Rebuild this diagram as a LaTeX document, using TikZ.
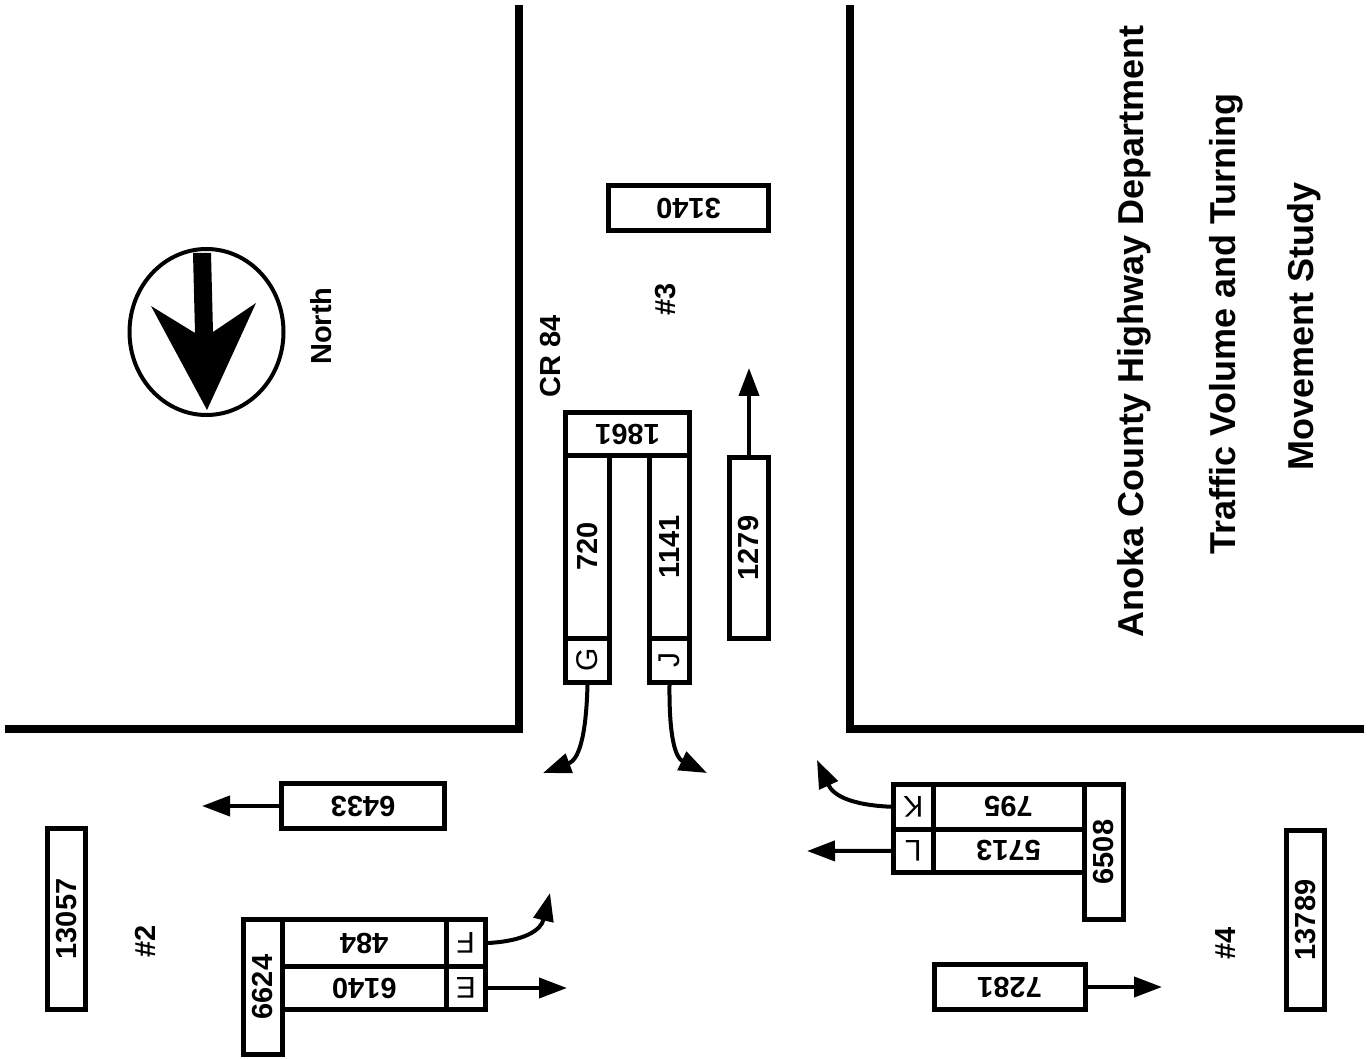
\documentclass[tikz,border=0pt]{standalone}
\usepackage{fontspec}
\setmainfont{Liberation Sans}
\usepackage{graphicx}
\usetikzlibrary{arrows.meta}
\newcommand{\cntfont}{\fontsize{29}{34}\selectfont\bfseries}
\newcommand{\tagfont}{\fontsize{30}{36}\selectfont}
\newcommand{\ttlfont}{\fontsize{36}{42}\selectfont\bfseries}
\begin{document}
\begin{tikzpicture}[x=1pt,y=-1pt,
    road/.style={line width=8pt},
    cell/.style={draw,line width=5pt,inner sep=0pt,font=\cntfont},
    tag/.style={cell,font=\tagfont},
    flow/.style={line width=4pt,-{Triangle[length=28pt,width=20pt]}},
    lbl/.style={font=\cntfont,inner sep=0pt,rotate=90}]
  \useasboundingbox (0,0) rectangle (1369,1059);
  % roads
  \draw[road] (519,5) -- (519,729) -- (5,729);
  \draw[road] (850,5) -- (850,729) -- (1364,729);
  % north arrow
  \draw[line width=4pt] (206.5,332) ellipse [x radius=77pt,y radius=83pt];
  \fill (193,253) -- (211,253) -- (213,332) -- (256,303) -- (207,410) -- (151,306) -- (195,333) -- cycle;
  \node[lbl] (north) at (321,326) {North};

  \node[cell,minimum width=160pt,minimum height=45pt] (n3140) at (688.5,208) {\rotatebox{180}{3140}};
  \node[lbl] (site3) at (666,299) {\#3};
  \node[lbl] (cr84) at (551,356) {CR 84};
  \node[cell,minimum width=124pt,minimum height=43pt] (n1861) at (627.5,434) {\rotatebox{180}{1861}};
  \node[cell,minimum width=44pt,minimum height=182.5pt] (n720) at (587.5,546.75) {\rotatebox{90}{720}};
  \node[tag,minimum width=44pt,minimum height=44.5pt] (g) at (587.5,660.25) {\rotatebox{90}{G}};
  \node[cell,minimum width=40pt,minimum height=182.5pt] (n1141) at (669.5,546.75) {\rotatebox{90}{1141}};
  \node[tag,minimum width=40pt,minimum height=44.5pt] (j) at (669.5,660.25) {\rotatebox{90}{J}};
  \node[cell,minimum width=39pt,minimum height=181pt] (n1279) at (749,548) {\rotatebox{90}{1279}};
  \coordinate (t1279) at (749,368);
  \draw[flow] (n1279) -- (t1279);
  \coordinate (tG) at (543,773);
  \draw[flow] (g.south) .. controls (586,740) and (578,760) .. (tG);
  \coordinate (tJ) at (707,773);
  \draw[flow] (j.south) .. controls (669,740) and (676,758) .. (tJ);

  % approach #2
  \node[cell,minimum width=163pt,minimum height=45pt] (n6433) at (363,806) {\rotatebox{180}{6433}};
  \coordinate (t6433) at (202,806);
  \draw[flow] (n6433) -- (t6433);
  \node[cell,minimum width=38pt,minimum height=181pt] (n13057) at (66.5,919) {\rotatebox{90}{13057}};
  \node[lbl] (site2) at (145.5,941.5) {\#2};
  \node[cell,minimum width=39.5pt,minimum height=135pt] (n6624) at (262.75,987) {\rotatebox{90}{6624}};
  \node[cell,minimum width=163.5pt,minimum height=47pt] (n484) at (364.25,943) {\rotatebox{180}{484}};
  \node[tag,minimum width=39.5pt,minimum height=47pt] (f) at (465.75,943) {\rotatebox{180}{F}};
  \node[cell,minimum width=163.5pt,minimum height=43pt] (n6140) at (364.25,988) {\rotatebox{180}{6140}};
  \node[tag,minimum width=39.5pt,minimum height=43pt] (e) at (465.75,988) {\rotatebox{180}{E}};
  \coordinate (tF) at (550,893);
  \draw[flow] (f.east) .. controls (525,941) and (541,930) .. (tF);
  \coordinate (tE) at (567,988);
  \draw[flow] (e) -- (tE);

  % approach #4
  \node[tag,minimum width=39.5pt,minimum height=44.5pt] (k) at (913.25,806.75) {\rotatebox{180}{K}};
  \node[cell,minimum width=151pt,minimum height=44.5pt] (n795) at (1008.5,806.75) {\rotatebox{180}{795}};
  \node[tag,minimum width=39.5pt,minimum height=43.5pt] (l) at (913.25,850.75) {\rotatebox{180}{L}};
  \node[cell,minimum width=151pt,minimum height=43.5pt] (n5713) at (1008.5,850.75) {\rotatebox{180}{5713}};
  \node[cell,minimum width=39.5pt,minimum height=135pt] (n6508) at (1103.75,852) {\rotatebox{90}{6508}};
  \coordinate (tK) at (817,760);
  \draw[flow] (k.west) .. controls (850,805) and (833,795) .. (tK);
  \coordinate (tL) at (807,851);
  \draw[flow] (l) -- (tL);
  \node[cell,minimum width=151pt,minimum height=45pt] (n7281) at (1009.5,987) {\rotatebox{180}{7281}};
  \coordinate (t7281) at (1162,987);
  \draw[flow] (n7281) -- (t7281);
  \node[lbl] (site4) at (1226,943) {\#4};
  \node[cell,minimum width=38pt,minimum height=179pt] (n13789) at (1305.5,920) {\rotatebox{90}{13789}};

  % title
  \node[rotate=90,anchor=base,font=\ttlfont] (ttl1) at (1143,331.5) {Anoka County Highway Department};
  \node[rotate=90,anchor=base,font=\ttlfont] (ttl2) at (1235,324) {Traffic Volume and Turning};
  \node[rotate=90,anchor=base,font=\ttlfont] (ttl3) at (1313,326.5) {Movement Study};
\end{tikzpicture}
\end{document}
